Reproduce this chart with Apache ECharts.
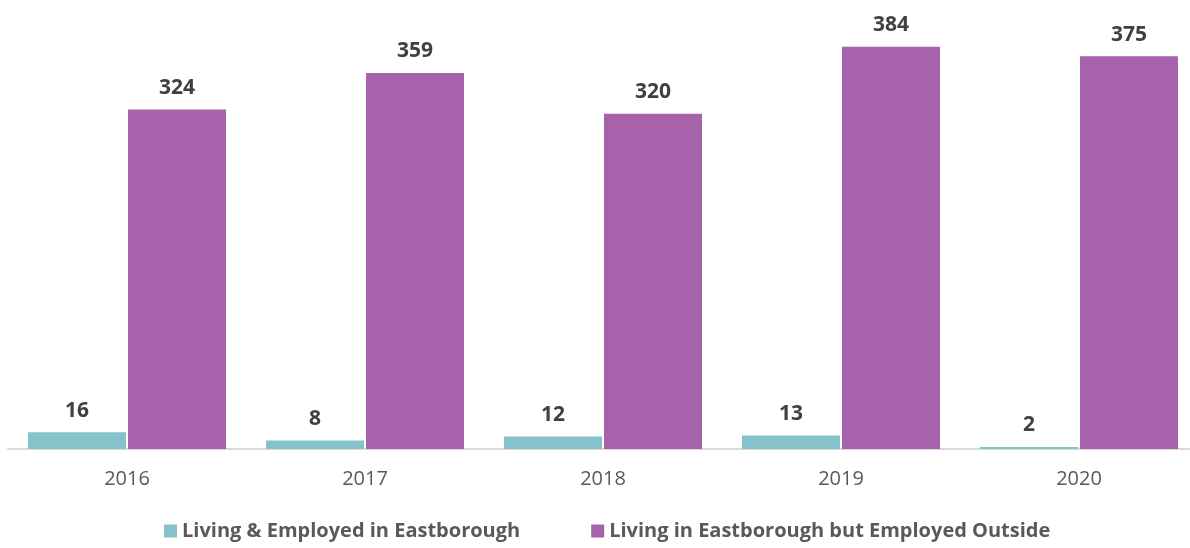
<!DOCTYPE html>
<html>
<head>
<meta charset="utf-8">
<script src="https://cdn.jsdelivr.net/npm/echarts@6/dist/echarts.min.js"></script>
<style>
  html, body { margin: 0; padding: 0; background: #fff; }
  #main { width: 1190px; height: 548px; }
</style>
</head>
<body>
<div id="main"></div>
<script>
// data
const years = ['2016', '2017', '2018', '2019', '2020'];
const livingEmployed = [16, 8, 12, 13, 2];
const livingOutside = [324, 359, 320, 384, 375];

const font = '"Open Sans", Lato, sans-serif';

const barLabel = {
  show: true,
  position: 'top',
  distance: 11,
  color: '#404040',
  fontSize: 21,
  fontWeight: 'bold',
  fontFamily: font
};

let myChart = echarts.init(document.getElementById('main'));
let option = {
  animation: false,
  color: ['#86C2C9', '#A662AA'],
  grid: { left: 8, top: 30, width: 1190, height: 419, outerBoundsMode: 'none' },
  legend: {
    bottom: 2,
    left: 159,
    itemWidth: 13,
    itemHeight: 13,
    itemGap: 71,
    icon: 'rect',
    textStyle: { color: '#595959', fontSize: 20, fontWeight: 'bold', fontFamily: font },
    data: ['Living & Employed in Eastborough', 'Living in Eastborough but Employed Outside']
  },
  xAxis: {
    type: 'category',
    data: years,
    axisLine: { lineStyle: { color: '#D9D9D9', width: 2 } },
    axisTick: { show: false },
    axisLabel: { color: '#595959', fontSize: 20, fontFamily: font, margin: 20 }
  },
  yAxis: {
    type: 'value',
    min: 0,
    max: 400,
    show: false,
    splitLine: { show: false }
  },
  series: [
    {
      name: 'Living & Employed in Eastborough',
      type: 'bar',
      data: livingEmployed,
      barWidth: 98,
      barGap: '2%',
      label: barLabel
    },
    {
      name: 'Living in Eastborough but Employed Outside',
      type: 'bar',
      data: livingOutside,
      barWidth: 98,
      label: barLabel
    }
  ]
};
myChart.setOption(option);
</script>
</body>
</html>
